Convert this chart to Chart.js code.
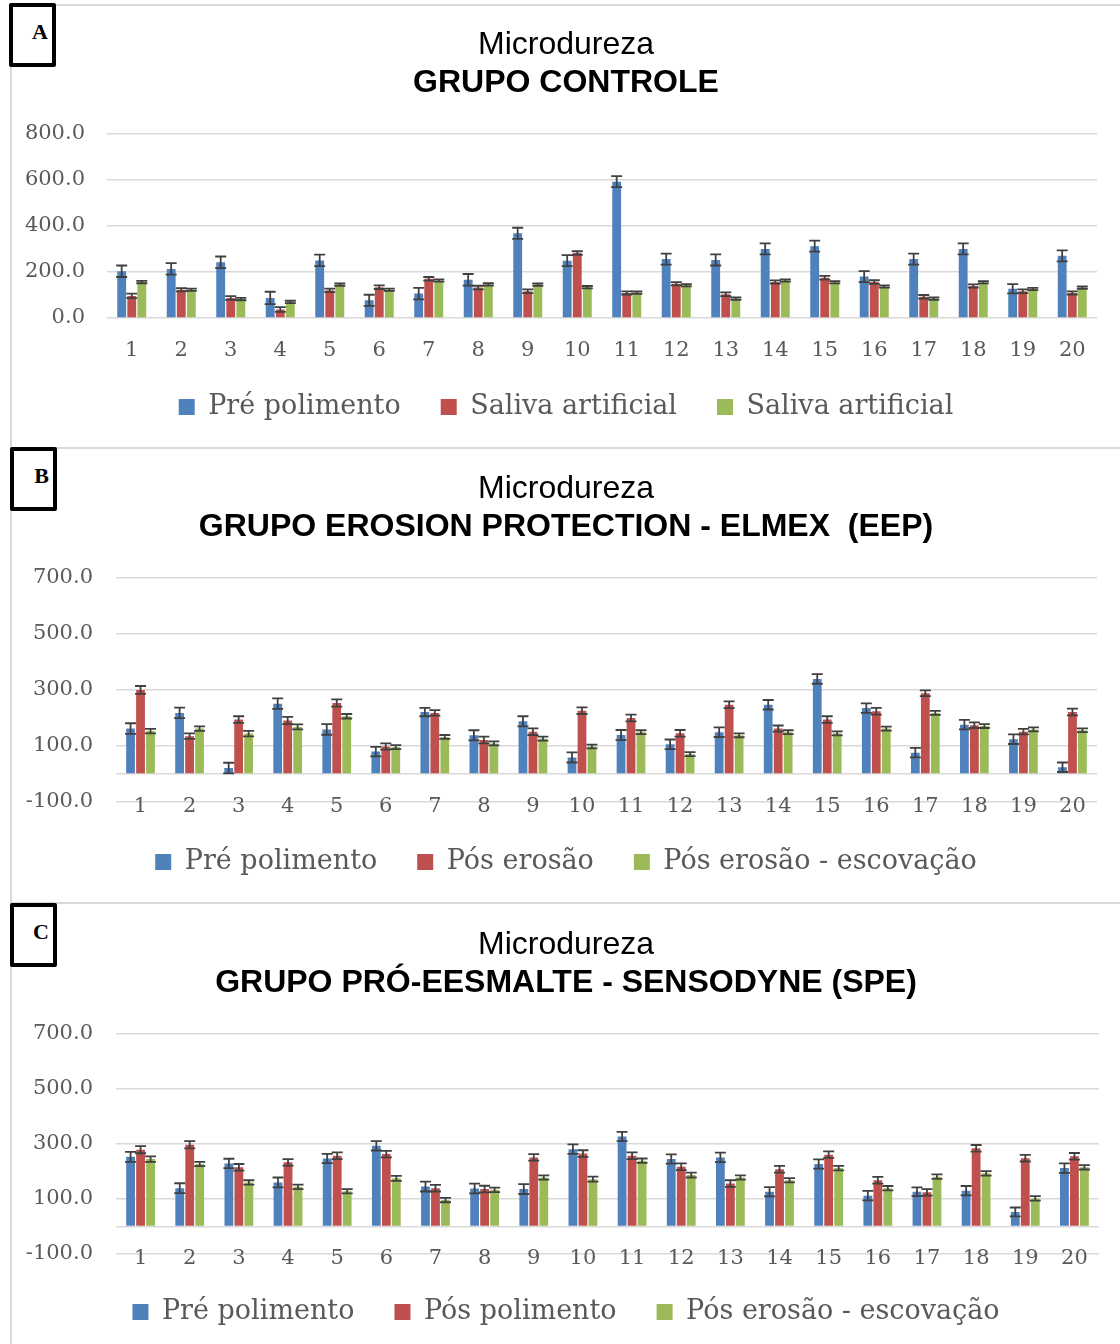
<!DOCTYPE html>
<html>
<head>
<meta charset="utf-8">
<script src="https://cdn.jsdelivr.net/npm/chart.js@4.4.1/dist/chart.umd.min.js"></script>
<style>
  body { margin: 0; background: #fff; width: 1120px; height: 1344px; overflow: hidden; position: relative; }
  .rule { position: absolute; left: 10px; width: 1110px; height: 2px; background: #d9d9d9; }
  .side { position: absolute; left: 10px; top: 4px; width: 2px; height: 1340px; background: #d9d9d9; }
  .tag { position: absolute; width: 39px; height: 56px; border: 4px solid #000; border-radius: 2px; background: #fff;
         font: bold 22px "Liberation Serif", serif; line-height: 1; }
  .tag span { position: absolute; right: 4px; top: 14px; }
  canvas { position: absolute; left: 12px; }
</style>
</head>
<body>
<div class="side"></div>
<div class="rule" style="top:4px"></div>
<div class="rule" style="top:447px"></div>
<div class="rule" style="top:902px"></div>

<canvas id="chartA" width="1108" height="440" style="top:6px"></canvas>
<canvas id="chartB" width="1108" height="450" style="top:450px"></canvas>
<canvas id="chartC" width="1108" height="438" style="top:906px"></canvas>

<div class="tag" style="left:9px;top:3px"><span>A</span></div>
<div class="tag" style="left:10px;top:447px"><span>B</span></div>
<div class="tag" style="left:10px;top:903px"><span>C</span></div>

<script>
// categories
const samples = ['1','2','3','4','5','6','7','8','9','10','11','12','13','14','15','16','17','18','19','20'];

// A - grupo controle
const ticksA = [0, 200, 400, 600, 800];
const seriesA = ['Pré polimento', 'Saliva artificial', 'Saliva artificial'];
const preA   = [203, 213, 242, 87, 250, 77, 106, 166, 368, 249, 592, 256, 252, 300, 312, 180, 256, 300, 127, 270];
const errPreA = [25, 25, 25, 27, 25, 24, 25, 25, 24, 24, 24, 24, 24, 24, 24, 24, 24, 24, 20, 24];
const sal1A  = [96, 123, 87, 37, 120, 134, 170, 132, 116, 282, 109, 149, 103, 156, 175, 156, 92, 139, 116, 109];
const errSal1A = [10, 7, 8, 10, 8, 8, 8, 8, 8, 8, 7, 7, 8, 7, 8, 8, 8, 7, 8, 7];
const sal2A  = [156, 123, 82, 70, 145, 123, 163, 146, 145, 134, 110, 142, 84, 163, 155, 137, 84, 155, 126, 132];
const errSal2A = [5, 5, 5, 5, 5, 5, 5, 5, 5, 5, 5, 5, 5, 5, 5, 5, 5, 5, 5, 5];

// B - erosion protection (EEP)
const ticksB = [-100, 0, 100, 300, 500, 700];
const seriesB = ['Pré polimento', 'Pós erosão', 'Pós erosão - escovação'];
const preB   = [162, 218, 21, 251, 159, 80, 221, 138, 188, 59, 139, 106, 149, 247, 339, 235, 76, 176, 124, 24];
const errPreB = [19, 19, 19, 19, 19, 17, 15, 18, 18, 18, 18, 17, 17, 17, 17, 17, 17, 17, 17, 17];
const posB   = [300, 135, 194, 191, 253, 98, 218, 121, 151, 226, 200, 145, 247, 162, 194, 224, 288, 174, 151, 221];
const errPosB = [14, 10, 12, 13, 13, 11, 10, 12, 12, 12, 12, 12, 12, 11, 12, 12, 10, 10, 10, 12];
const escB   = [153, 162, 144, 168, 206, 96, 132, 109, 126, 98, 149, 71, 138, 149, 145, 162, 218, 171, 159, 156];
const errEscB = [8, 8, 10, 9, 8, 7, 7, 7, 7, 7, 7, 7, 7, 7, 7, 7, 7, 7, 7, 7];

// C - pro-esmalte (SPE)
const ticksC = [-100, 0, 100, 300, 500, 700];
const seriesC = ['Pré polimento', 'Pós polimento', 'Pós erosão - escovação'];
const preC   = [253, 139, 229, 160, 247, 293, 145, 138, 136, 281, 327, 245, 251, 126, 227, 112, 126, 130, 53, 212];
const errPreC = [18, 18, 17, 18, 17, 17, 18, 18, 18, 17, 17, 17, 17, 17, 17, 17, 16, 17, 16, 17];
const posC   = [279, 297, 215, 233, 257, 263, 139, 136, 251, 265, 257, 217, 156, 208, 261, 168, 124, 284, 248, 255];
const errPosC = [13, 13, 12, 12, 12, 12, 12, 12, 12, 12, 12, 12, 12, 12, 12, 12, 12, 12, 12, 12];
const escC   = [245, 227, 160, 144, 128, 175, 96, 133, 178, 172, 239, 187, 178, 168, 212, 139, 181, 193, 102, 215];
const errEscC = [10, 8, 8, 8, 8, 9, 8, 8, 8, 9, 8, 9, 8, 8, 8, 8, 8, 8, 8, 8];

const colors = ['#4f81bd', '#c0504d', '#9bbb59'];

// error bars drawn on top of the bars, from the y scale
const errorBars = {
  id: 'errorBars',
  afterDatasetsDraw(chart) {
    const ctx = chart.ctx;
    const y = chart.scales.y;
    chart.data.datasets.forEach((ds, i) => {
      chart.getDatasetMeta(i).data.forEach((bar, j) => {
        const v = ds.data[j], e = ds.errors[j];
        const top = y.getPixelForValue(v + e);
        const bot = y.getPixelForValue(v - e);
        ctx.save();
        ctx.strokeStyle = '#404040';
        ctx.lineWidth = 1.8;
        ctx.beginPath();
        ctx.moveTo(bar.x, top); ctx.lineTo(bar.x, bot);
        ctx.moveTo(bar.x - 5.5, top); ctx.lineTo(bar.x + 5.5, top);
        ctx.moveTo(bar.x - 5.5, bot); ctx.lineTo(bar.x + 5.5, bot);
        ctx.stroke();
        ctx.restore();
      });
    });
  }
};

Chart.defaults.font.family = '"DejaVu Serif", serif';
Chart.defaults.color = '#595959';

// empty axes used only to reserve room (right margin, gap above legend)
const spacer = (pos, size) => ({
  type: 'category',
  position: pos,
  display: true,
  grid: { display: false },
  border: { display: false },
  ticks: { display: false },
  afterFit: s => { if (pos === 'right') s.width = size; else s.height = size; }
});

function makeChart(id, subtitle, names, values, errors, yTicks, opt) {
  return new Chart(document.getElementById(id), {
    type: 'bar',
    data: {
      labels: samples,
      datasets: names.map((n, i) => ({
        label: n,
        data: values[i],
        errors: errors[i],
        xAxisID: 'x',
        yAxisID: 'y',
        backgroundColor: colors[i],
        barPercentage: 0.88,
        categoryPercentage: 0.61
      }))
    },
    options: {
      responsive: false,
      animation: false,
      layout: { padding: { left: 0, right: 0, top: 0, bottom: opt.bottom } },
      plugins: {
        title: {
          display: true,
          text: 'Microdureza',
          color: '#000',
          font: { family: '"Liberation Sans", Arial, sans-serif', size: 32, weight: 'normal' },
          padding: { top: 20, bottom: 0 }
        },
        subtitle: {
          display: true,
          text: subtitle,
          color: '#000',
          font: { family: '"Liberation Sans", Arial, sans-serif', size: 32, weight: 'bold' },
          padding: { top: 0, bottom: 31 }
        },
        legend: {
          position: 'bottom',
          labels: {
            boxWidth: 16,
            boxHeight: 16,
            padding: 40,
            color: '#595959',
            font: { size: 27 }
          }
        },
        tooltip: { enabled: false }
      },
      scales: {
        x: {
          position: { y: yTicks[0] },
          grid: { display: false },
          border: { display: false },
          ticks: { font: { size: 21 }, padding: opt.xPad, maxRotation: 0, autoSkip: false }
        },
        gap: spacer('bottom', opt.gap),
        side: spacer('right', opt.right),
        y: {
          min: yTicks[0],
          max: yTicks[yTicks.length - 1],
          afterBuildTicks: s => { s.ticks = yTicks.map(v => ({ value: v })); },
          afterFit: s => { s.width = opt.left; },
          grid: { color: '#d9d9d9', lineWidth: 1.5, drawTicks: false },
          border: { display: false },
          ticks: {
            padding: opt.yPad,
            font: { size: 21 },
            callback: v => (v === 0 && yTicks[0] < 0) ? '' : v.toFixed(1)
          }
        }
      }
    },
    plugins: [errorBars]
  });
}

makeChart('chartA', 'GRUPO CONTROLE', seriesA,
  [preA, sal1A, sal2A], [errPreA, errSal1A, errSal2A], ticksA,
  { left: 95, right: 23, yPad: 22, bottom: 15.5, gap: 35.5, xPad: 12 });

makeChart('chartB', 'GRUPO EROSION PROTECTION - ELMEX  (EEP)', seriesB,
  [preB, posB, escB], [errPreB, errPosB, errEscB], ticksB,
  { left: 104, right: 23, yPad: 23, bottom: 14.5, gap: 6.5, xPad: -16 });

makeChart('chartC', 'GRUPO PRÓ-EESMALTE - SENSODYNE (SPE)', seriesC,
  [preC, posC, escC], [errPreC, errPosC, errEscC], ticksC,
  { left: 104, right: 21, yPad: 23, bottom: 8.5, gap: 4.5, xPad: -16 });
</script>
</body>
</html>
